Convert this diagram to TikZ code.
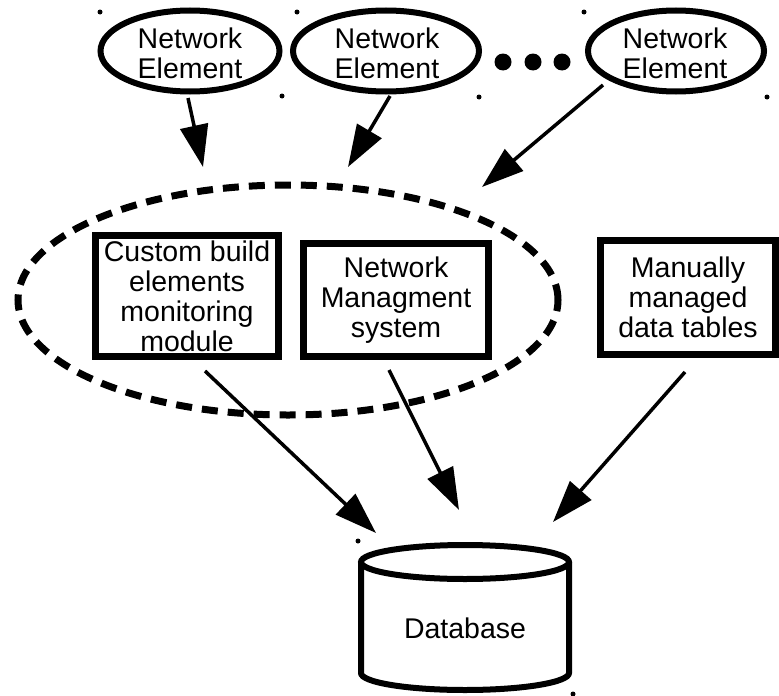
\documentclass[tikz,border=0pt]{standalone}
\usepackage{fontspec}
\setmainfont{Liberation Sans}
\usetikzlibrary{arrows.meta,shapes.geometric,calc}
\begin{document}
\begin{tikzpicture}[x=1pt,y=-1pt,
  txt/.style={font=\fontsize{28.5}{30}\selectfont, align=center, inner sep=0pt},
  elemline/.style={line width=6pt},
  boxnode/.style={txt, draw, line width=7pt, minimum width=#1},
  grpnode/.style={ellipse, draw, dashed, dash pattern=on 16pt off 10pt, line width=7pt,
    inner sep=0pt, minimum width=540pt, minimum height=230pt},
  arr/.style={line width=3.5pt, -{Triangle[length=42pt,width=28pt]}},
  dbline/.style={line width=6pt},
  handle/.style={fill=black},
]
\useasboundingbox (0,0) rectangle (779,696);

% grouping ellipse round the two collectors
\node[grpnode] (grp) at (288,300) {};

% network elements
\node[txt] (ne1) at (190,53) {Network\\Element};
\node[txt] (ne2) at (387,53) {Network\\Element};
\node[txt] (ne3) at (675,53) {Network\\Element};
\draw[elemline] ([shift={(0,-2)}]ne1.center) ellipse [x radius=89.5pt, y radius=40.5pt];
\draw[elemline] ([shift={(-1,-2)}]ne2.center) ellipse [x radius=93pt, y radius=40.5pt];
\draw[elemline] ([shift={(1,-2)}]ne3.center) ellipse [x radius=88pt, y radius=40.5pt];

% ellipsis between the elements
\fill (503,62) circle[radius=8.5pt];
\fill (533,62) circle[radius=8.5pt];
\fill (562,62) circle[radius=8.5pt];

% collectors and tables
\node[boxnode=183pt, minimum height=121pt] (b1) at (187,296) {Custom build\\elements\\monitoring\\module};
\node[boxnode=185pt, minimum height=113pt] (b2) at (396,300) {Network\\Managment\\system};
\node[boxnode=175pt, minimum height=114pt] (b3) at (688,297) {Manually\\managed\\data tables};

% database cylinder
\node[txt] (db) at (465,628) {Database};
\coordinate (dbtop) at ([shift={(0,-66)}]db.center);
\coordinate (dbbot) at ([shift={(0,45)}]db.center);
\draw[dbline] (dbtop) ellipse [x radius=104pt, y radius=17pt];
\draw[dbline] ([shift={(-104,0)}]dbtop) -- ([shift={(-104,0)}]dbbot)
  arc[start angle=180, end angle=360, x radius=104pt, y radius=17pt]
  -- ([shift={(104,0)}]dbtop);

% selection handles
\fill[handle] (100,12) circle[radius=2.5pt];
\fill[handle] (282,96) circle[radius=2.5pt];
\fill[handle] (297,12) circle[radius=2.5pt];
\fill[handle] (479,97) circle[radius=2.5pt];
\fill[handle] (584,12) circle[radius=2.5pt];
\fill[handle] (767,97) circle[radius=2.5pt];
\fill[handle] (358,541) circle[radius=2.5pt];
\fill[handle] (573,694) circle[radius=2.5pt];

% flows into the group
\draw[arr] ([shift={(-2,45)}]ne1.center) -- ([shift={(-85,-133)}]grp.center);
\draw[arr] ([shift={(3,43)}]ne2.center) -- ([shift={(60,-133)}]grp.center);
\draw[arr] ([shift={(-72,32)}]ne3.center) -- ([shift={(194,-113)}]grp.center);

% flows into the database
\draw[arr] ([shift={(18,75)}]b1.center) -- ([shift={(-89,-95)}]db.center);
\draw[arr] ([shift={(-7,70)}]b2.center) -- ([shift={(-6,-118)}]db.center);
\draw[arr] ([shift={(-3,75)}]b3.center) -- ([shift={(88,-106)}]db.center);
\end{tikzpicture}
\end{document}
